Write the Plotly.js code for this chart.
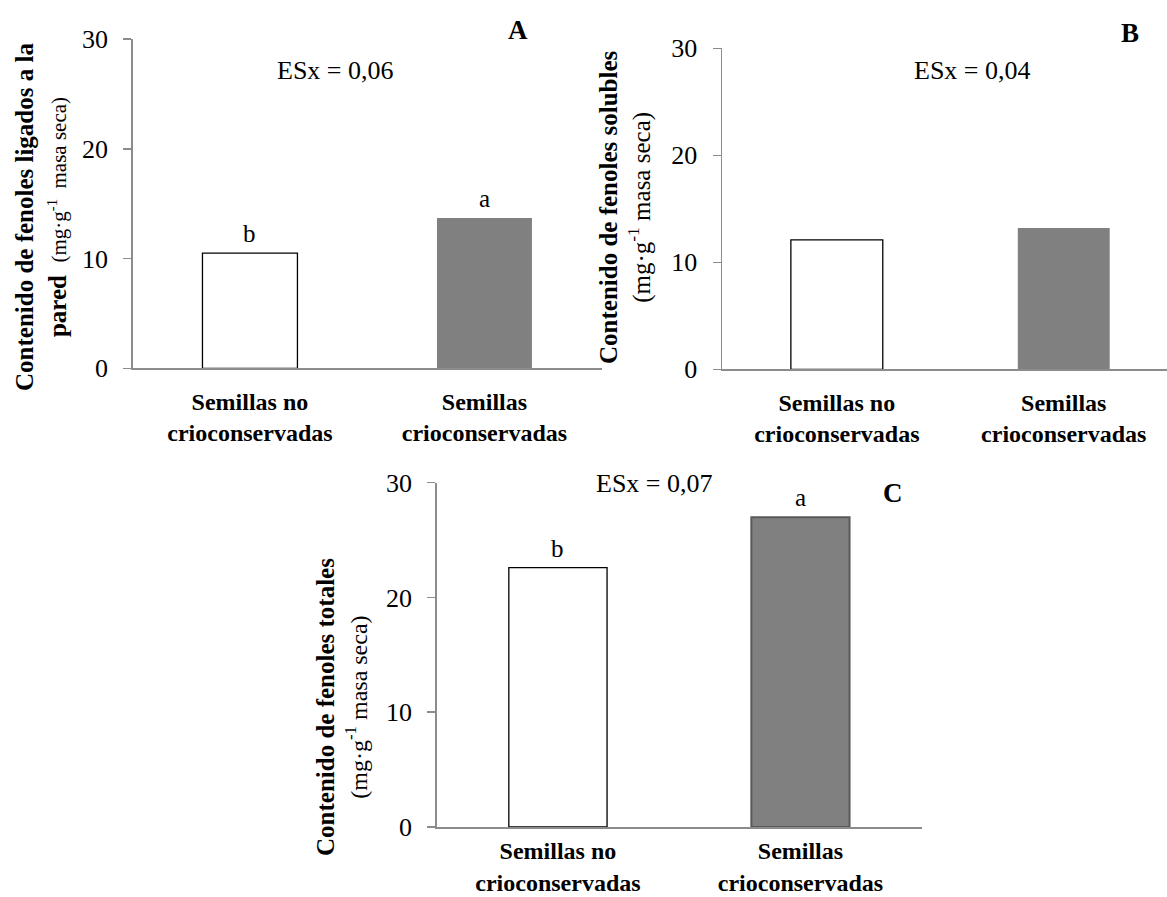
<!DOCTYPE html>
<html>
<head>
<meta charset="utf-8">
<script src="https://cdn.plot.ly/plotly-3.0.1.min.js"></script>
<style>html,body{margin:0;padding:0;background:#fff;}#chart{width:1167px;height:897px;}</style>
</head>
<body>
<div id="chart"></div>
<script>
// ---- data ----
const categories = ['Semillas no<br>crioconservadas', 'Semillas<br>crioconservadas'];
const valuesA = [10.5, 13.7];
const valuesB = [12.1, 13.2];
const valuesC = [22.6, 27.0];
const lettersA = ['b', 'a'];
const lettersB = ['', ''];
const lettersC = ['b', 'a'];
const esxA = 'ESx = 0,06';
const esxB = 'ESx = 0,04';
const esxC = 'ESx = 0,07';
const panelLabels = ['A', 'B', 'C'];
const yTickVals = [0, 10, 20, 30];
const yTitleA = ['Contenido de fenoles ligados a la', 'pared', '(mg·g<sup>-1</sup>  masa seca)'];
const yTitleB = ['Contenido de fenoles solubles', '(mg·g<sup>-1</sup> masa seca)'];
const yTitleC = ['Contenido de fenoles totales', '(mg·g<sup>-1</sup> masa seca)'];

// ---- style ----
const FONT = 'Liberation Serif, Times New Roman, Times, serif';
const AXIS_GRAY = '#8c8c8c';
const W = 1167, H = 897;
const px = v => v / W;
const py = v => 1 - v / H;

function barTrace(vals, xa, ya, grayLine) {
  return {
    type: 'bar', x: categories, y: vals, xaxis: xa, yaxis: ya,
    marker: { color: ['#ffffff', '#808080'],
              line: { color: ['#000000', grayLine], width: [1.3, grayLine === '#808080' ? 0 : 2] } },
    hoverinfo: 'skip', showlegend: false
  };
}

const data = [
  barTrace(valuesA, 'x', 'y', '#808080'),
  barTrace(valuesB, 'x2', 'y2', '#808080'),
  barTrace(valuesC, 'x3', 'y3', '#5a5a5a')
];

function yax(domain) {
  return {
    domain: domain, range: [0, 30], tickvals: yTickVals, showgrid: false, zeroline: false,
    showline: true, linecolor: AXIS_GRAY, linewidth: 1.5, ticks: 'outside', ticklen: 8,
    tickcolor: AXIS_GRAY, tickwidth: 1.5, ticklabelstandoff: 10,
    tickfont: { family: FONT, size: 26, color: '#000' }, fixedrange: true
  };
}
function xax(domain, range, standoff) {
  return {
    domain: domain, range: range, type: 'category', showgrid: false, zeroline: false,
    showline: true, linecolor: AXIS_GRAY, linewidth: 1.5, ticks: '',
    ticklabelstandoff: standoff,
    tickfont: { family: FONT, size: 24, color: '#000', weight: 'bold' }, fixedrange: true
  };
}

const annotations = [];
function letters(arr, vals, xr, yr) {
  arr.forEach((t, i) => {
    if (!t) return;
    annotations.push({ text: t, x: categories[i], y: vals[i], xref: xr, yref: yr,
      yanchor: 'bottom', yshift: 4, showarrow: false, font: { family: FONT, size: 25, color: '#000' } });
  });
}
letters(lettersA, valuesA, 'x', 'y');
letters(lettersB, valuesB, 'x2', 'y2');
letters(lettersC, valuesC, 'x3', 'y3');

function freeText(t, x, y, size, bold, angle) {
  annotations.push({ text: bold ? '<b>' + t + '</b>' : t, x: px(x), y: py(y), xref: 'paper', yref: 'paper',
    xanchor: 'center', yanchor: 'middle', showarrow: false, textangle: angle || 0,
    font: { family: FONT, size: size, color: '#000' } });
}
freeText(esxA, 335, 70, 26, false);
freeText(esxB, 973, 70, 26, false);
freeText(esxC, 654, 483, 26, false);
freeText(panelLabels[0], 518, 30, 27, true);
freeText(panelLabels[1], 1130, 33, 27, true);
freeText(panelLabels[2], 893, 493, 27, true);

freeText('<b>' + yTitleA[0] + '</b><br><b>' + yTitleA[1] + '</b>  <span style="font-size:21px">' + yTitleA[2] + '</span>', 41, 217, 25, false, -90);
freeText('<b>' + yTitleB[0] + '</b><br><span style="font-size:25px">' + yTitleB[1] + '</span>', 625, 207, 25, false, -90);
freeText('<b>' + yTitleC[0] + '</b><br><span style="font-size:24px">' + yTitleC[1] + '</span>', 342, 707, 25, false, -90);

const layout = {
  width: W, height: H, margin: { l: 0, r: 0, t: 0, b: 0 },
  paper_bgcolor: '#fff', plot_bgcolor: 'rgba(0,0,0,0)',
  font: { family: FONT },
  bargap: 0.595, showlegend: false,
  xaxis: Object.assign(xax([px(132.7), px(601.7)], [-0.5, 1.5], 11), { anchor: 'y' }),
  yaxis: Object.assign(yax([py(368.3), py(39)]), { anchor: 'x' }),
  xaxis2: Object.assign(xax([px(722), 1], [-0.506, 1.455], 11), { anchor: 'y2' }),
  yaxis2: Object.assign(yax([py(369.3), py(48.3)]), { anchor: 'x2' }),
  xaxis3: Object.assign(xax([px(436.7), px(921.7)], [-0.5, 1.5], 2), { anchor: 'y3' }),
  yaxis3: Object.assign(yax([py(827), py(482.7)]), { anchor: 'x3' }),
  annotations: annotations
};

Plotly.newPlot('chart', data, layout, { displayModeBar: false, staticPlot: true });
</script>
</body>
</html>
